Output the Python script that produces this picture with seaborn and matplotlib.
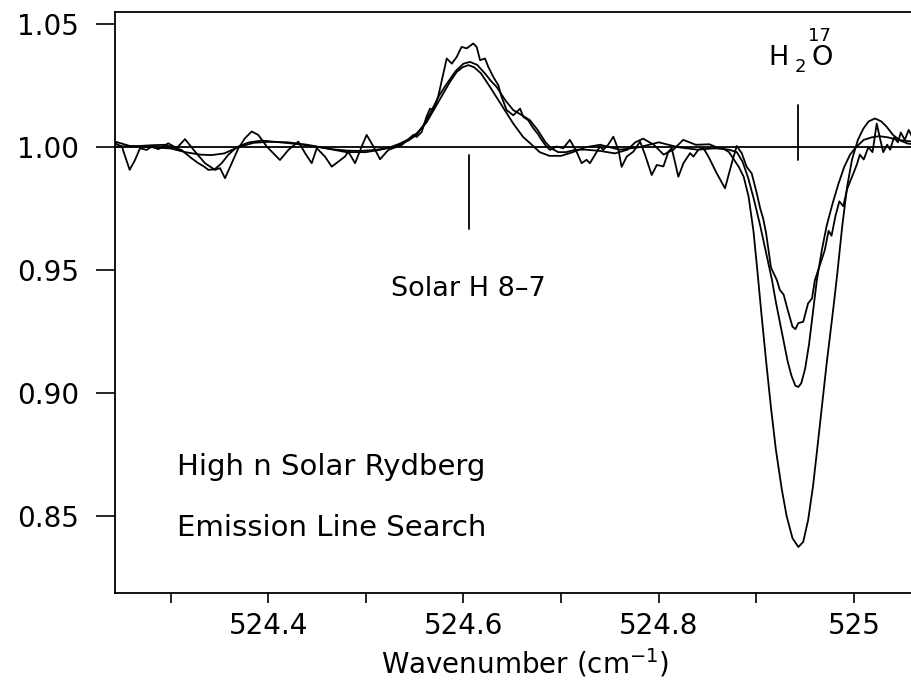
import numpy as np
import pandas as pd
import matplotlib
matplotlib.use("Agg")
import matplotlib.pyplot as plt
import seaborn as sns

# ---------------- data ----------------
noisy_x = [524.243, 524.250, 524.258, 524.2635, 524.2686, 524.2754, 524.2806, 524.2874, 524.2976, 524.3062,
           524.3147, 524.325, 524.3352, 524.3454, 524.3506, 524.3557, 524.3625, 524.3694, 524.3762, 524.383,
           524.3898, 524.3984, 524.4069, 524.412, 524.4206, 524.4308, 524.4377, 524.4445, 524.4497, 524.4581,
           524.465, 524.4786, 524.482, 524.4889, 524.4957, 524.5008, 524.5077, 524.5145, 524.523, 524.5367,
           524.5486, 524.5521, 524.5572, 524.562, 524.5657, 524.5691, 524.574, 524.5793, 524.5828, 524.588,
           524.593, 524.598, 524.6033, 524.610, 524.6135, 524.617, 524.622, 524.6254, 524.6305, 524.6357,
           524.639, 524.6442, 524.651, 524.658, 524.6613, 524.6663, 524.671, 524.676, 524.680, 524.6845,
           524.6886, 524.6954, 524.7022, 524.709, 524.7158, 524.721, 524.7261, 524.7295, 524.7346, 524.7398,
           524.7431, 524.7482, 524.7535, 524.7587, 524.762, 524.7672, 524.774, 524.7809, 524.786, 524.7928,
           524.798, 524.8048, 524.8099, 524.8133, 524.8201, 524.8253, 524.8321, 524.8355, 524.8406, 524.8458,
           524.8509, 524.8594, 524.8679, 524.8748, 524.8799, 524.885, 524.8901, 524.8952, 524.9004, 524.904,
           524.907, 524.910, 524.915, 524.921, 524.924, 524.928, 524.932, 524.937, 524.940, 524.943,
           524.948, 524.953, 524.957, 524.960, 524.965, 524.970, 524.974, 524.977, 524.981, 524.985,
           524.989, 524.993, 524.998, 525.003, 525.006, 525.010, 525.0147, 525.019, 525.0233, 525.027,
           525.030, 525.034, 525.037, 525.041, 525.045, 525.048, 525.052, 525.056, 525.060, 525.066,
           525.072, 525.078, 525.085]
noisy_y = [1.0016, 1.0003, 0.9908, 0.9948, 0.9996, 0.9989, 1.0003, 0.9992, 1.0016, 0.9996,
           1.0033, 0.9982, 0.9935, 0.9908, 0.9915, 0.9874, 0.9935, 0.9996, 1.0037, 1.0064,
           1.0050, 1.0003, 0.9969, 0.9948, 0.9989, 1.0023, 0.9976, 0.9935, 0.9996, 0.9962,
           0.9921, 0.9962, 0.9982, 0.9935, 1.0003, 1.0050, 1.0003, 0.9951, 0.9989, 1.0009,
           1.0050, 1.0042, 1.0062, 1.0123, 1.0157, 1.0151, 1.0205, 1.0300, 1.0361, 1.0340,
           1.0367, 1.0408, 1.0402, 1.0422, 1.0408, 1.0354, 1.0361, 1.0327, 1.0286, 1.0252,
           1.0205, 1.0151, 1.0130, 1.0157, 1.0123, 1.0110, 1.0080, 1.0055, 1.0030, 1.0005,
           0.9989, 1.0003, 0.9996, 1.0030, 0.9982, 0.9935, 0.9949, 0.9935, 0.9969, 1.0003,
           0.9989, 1.0010, 1.0043, 0.9989, 0.9920, 0.9962, 0.9982, 1.0023, 0.9969, 0.9887,
           0.9928, 0.9922, 0.9982, 0.9996, 0.9880, 0.9935, 0.9976, 0.9962, 0.9990, 0.9996,
           0.9962, 0.9894, 0.9833, 0.9935, 1.0005, 0.9976, 0.9920, 0.9894, 0.9813, 0.9750,
           0.9710, 0.9650, 0.9510, 0.9460, 0.9420, 0.9400, 0.9340, 0.9270, 0.9260, 0.9285,
           0.9290, 0.9365, 0.9385, 0.9460, 0.9520, 0.9580, 0.9660, 0.9640, 0.9720, 0.9780,
           0.9760, 0.9830, 0.9880, 0.9930, 0.9970, 0.9950, 1.0000, 0.9980, 1.0096, 1.0030,
           0.9980, 1.0010, 0.9990, 1.0040, 1.0020, 1.0060, 1.0030, 1.0070, 1.0040, 1.0050,
           1.0020, 1.0040, 1.0030]

mid_x = [524.243, 524.260, 524.280, 524.294, 524.311, 524.3215, 524.3284, 524.334, 524.3386, 524.345,
         524.3523, 524.359, 524.3676, 524.3796, 524.3933, 524.407, 524.4274, 524.448, 524.465, 524.482,
         524.495, 524.509, 524.520, 524.530, 524.5435, 524.552, 524.559, 524.5657, 524.575, 524.583,
         524.592, 524.600, 524.6067, 524.614, 524.622, 524.628, 524.634, 524.643, 524.651, 524.660,
         524.668, 524.676, 524.684, 524.690, 524.697, 524.705, 524.715, 524.725, 524.740, 524.755,
         524.768, 524.776, 524.784, 524.795, 524.805, 524.815, 524.825, 524.838, 524.852, 524.862,
         524.872, 524.880, 524.886, 524.892, 524.898, 524.904, 524.910, 524.916, 524.920, 524.924,
         524.928, 524.932, 524.936, 524.940, 524.943, 524.946, 524.950, 524.954, 524.958, 524.962,
         524.967, 524.972, 524.978, 524.984, 524.990, 524.996, 525.002, 525.010, 525.018, 525.026,
         525.035, 525.045, 525.055, 525.070, 525.085]
mid_y = [1.0023, 1.0003, 1.0008, 1.0010, 0.9989, 0.9955, 0.9935, 0.9922, 0.9908, 0.9910,
         0.9935, 0.9969, 1.0000, 1.0019, 1.0027, 1.0022, 1.0014, 1.0003, 0.9992, 0.9986,
         0.9985, 0.9989, 0.9995, 1.0003, 1.0027, 1.0050, 1.0090, 1.0137, 1.0210, 1.0259,
         1.0310, 1.0340, 1.0347, 1.0335, 1.0300, 1.0270, 1.0245, 1.0190, 1.0151, 1.0130,
         1.0110, 1.0070, 1.0020, 0.9995, 0.9980, 0.9980, 0.9990, 0.9990, 0.9985, 0.9975,
         0.9990, 1.0020, 1.0035, 1.0010, 0.9970, 0.9990, 1.0030, 1.0010, 1.0012, 0.9995,
         0.9990, 0.9980, 0.9940, 0.9870, 0.9780, 0.9680, 0.9570, 0.9460, 0.9370, 0.9290,
         0.9210, 0.9130, 0.9070, 0.9030, 0.9025, 0.9040, 0.9100, 0.9200, 0.9330, 0.9460,
         0.9580, 0.9680, 0.9770, 0.9850, 0.9920, 0.9970, 1.0000, 1.0030, 1.0040, 1.0045,
         1.0040, 1.0030, 1.0025, 1.0020, 1.0020]

deep_x = [524.243, 524.260, 524.280, 524.300, 524.315, 524.330, 524.342, 524.355, 524.369, 524.385,
          524.400, 524.420, 524.440, 524.460, 524.480, 524.500, 524.515, 524.525, 524.535, 524.545,
          524.553, 524.562, 524.570, 524.578, 524.586, 524.593, 524.599, 524.605, 524.611, 524.618,
          524.628, 524.640, 524.651, 524.661, 524.670, 524.678, 524.688, 524.700, 524.712, 524.725,
          524.740, 524.760, 524.780, 524.800, 524.820, 524.840, 524.855, 524.866, 524.872, 524.877,
          524.882, 524.887, 524.892, 524.897, 524.901, 524.905, 524.910, 524.915, 524.920, 524.926,
          524.931, 524.937, 524.943, 524.948, 524.953, 524.958, 524.962, 524.967, 524.972, 524.979,
          524.983, 524.988, 524.993, 524.998, 525.004, 525.0095, 525.015, 525.0215, 525.028, 525.0335,
          525.040, 525.047, 525.055, 525.065, 525.085]
deep_y = [1.0003, 1.0005, 1.0000, 0.9995, 0.9980, 0.9970, 0.9968, 0.9975, 1.0000, 1.0018,
          1.0022, 1.0020, 1.0010, 0.9995, 0.9980, 0.9980, 0.9990, 1.0000, 1.0015, 1.0035,
          1.0060, 1.0100, 1.0155, 1.0210, 1.0265, 1.0306, 1.0325, 1.0334, 1.0325, 1.0300,
          1.0240, 1.0165, 1.0096, 1.0042, 1.0010, 0.9980, 0.9965, 0.9965, 0.9980, 1.0000,
          1.0010, 0.9990, 1.0000, 1.0020, 1.0000, 0.9990, 0.9995, 0.9995, 0.9980, 0.9950,
          0.9920, 0.9880, 0.9800, 0.9660, 0.9500, 0.9330, 0.9130, 0.8940, 0.8770, 0.8610,
          0.8500, 0.8410, 0.8374, 0.8395, 0.8483, 0.8620, 0.8760, 0.8940, 0.9120, 0.9350,
          0.9490, 0.9680, 0.9840, 0.9950, 1.0030, 1.0075, 1.0105, 1.0117, 1.0105, 1.0083,
          1.0050, 1.0028, 1.0015, 1.0010, 1.0010]

x_major = [524.4, 524.6, 524.8, 525.0]
x_major_labels = ["524.4", "524.6", "524.8", "525"]
x_minor = [524.3, 524.5, 524.7, 524.9]
y_ticks = [0.85, 0.90, 0.95, 1.00, 1.05]
y_tick_labels = ["0.85", "0.90", "0.95", "1.00", "1.05"]

solar_mark_x = 524.6056
solar_mark_y = [0.9967, 0.9666]
h2o_mark_x = 524.9426
h2o_mark_y = [1.0171, 0.9947]

# ---------------- plotting ----------------
sns.set_style("ticks")
plt.rcParams["font.family"] = ["DejaVu Sans"]
plt.rcParams["text.color"] = "black"
plt.rcParams["axes.labelcolor"] = "black"
plt.rcParams["xtick.color"] = "black"
plt.rcParams["ytick.color"] = "black"
plt.rcParams["axes.edgecolor"] = "black"

df = pd.concat([
    pd.DataFrame({"x": noisy_x, "y": noisy_y, "trace": "observed"}),
    pd.DataFrame({"x": mid_x, "y": mid_y, "trace": "model 1"}),
    pd.DataFrame({"x": deep_x, "y": deep_y, "trace": "model 2"}),
], ignore_index=True)

fig = plt.figure(figsize=(9.12, 6.84), dpi=100)
ax = fig.add_axes([115 / 912, 91 / 684, 820 / 912, 581 / 684])

sns.lineplot(data=df, x="x", y="y", hue="trace", palette=["black"] * 3,
             estimator=None, sort=False, legend=False, linewidth=1.3, ax=ax)

ax.axhline(1.0, color="black", linewidth=1.3)
ax.plot([solar_mark_x, solar_mark_x], solar_mark_y, color="black", linewidth=1.3)
ax.plot([h2o_mark_x, h2o_mark_x], h2o_mark_y, color="black", linewidth=1.3)

ax.set_xlim(524.243, 525.083)
ax.set_ylim(0.8187, 1.055)
ax.set_xticks(x_major)
ax.set_xticklabels(x_major_labels)
ax.set_xticks(x_minor, minor=True)
ax.set_yticks(y_ticks)
ax.set_yticklabels(y_tick_labels)
ax.tick_params(axis="x", which="both", direction="out", length=7.5, width=1.2, pad=6, labelsize=20)
ax.tick_params(axis="y", direction="out", length=14, width=1.2, pad=12, labelsize=20)
for s in ax.spines.values():
    s.set_linewidth(1.3)
    s.set_color("black")

ax.set_xlabel("Wavenumber (cm$^{-1}$)", fontsize=20, labelpad=5)
ax.set_ylabel("")

ax.text(524.3065, 0.8698, "High n Solar Rydberg", fontsize=21, ha="left", va="center")
ax.text(524.3065, 0.8451, "Emission Line Search", fontsize=21, ha="left", va="center")
ax.text(524.605, 0.9425, "Solar H 8\u20137", fontsize=19.5, ha="center", va="center")

ax.text(524.912, 1.0363, "H", fontsize=19.5, ha="left", va="center")
ax.text(524.9396, 1.0325, "2", fontsize=13, ha="left", va="center")
ax.text(524.9525, 1.0452, "17", fontsize=13, ha="left", va="center")
ax.text(524.957, 1.0363, "O", fontsize=19.5, ha="left", va="center")

fig.savefig("out.png", dpi=100)
